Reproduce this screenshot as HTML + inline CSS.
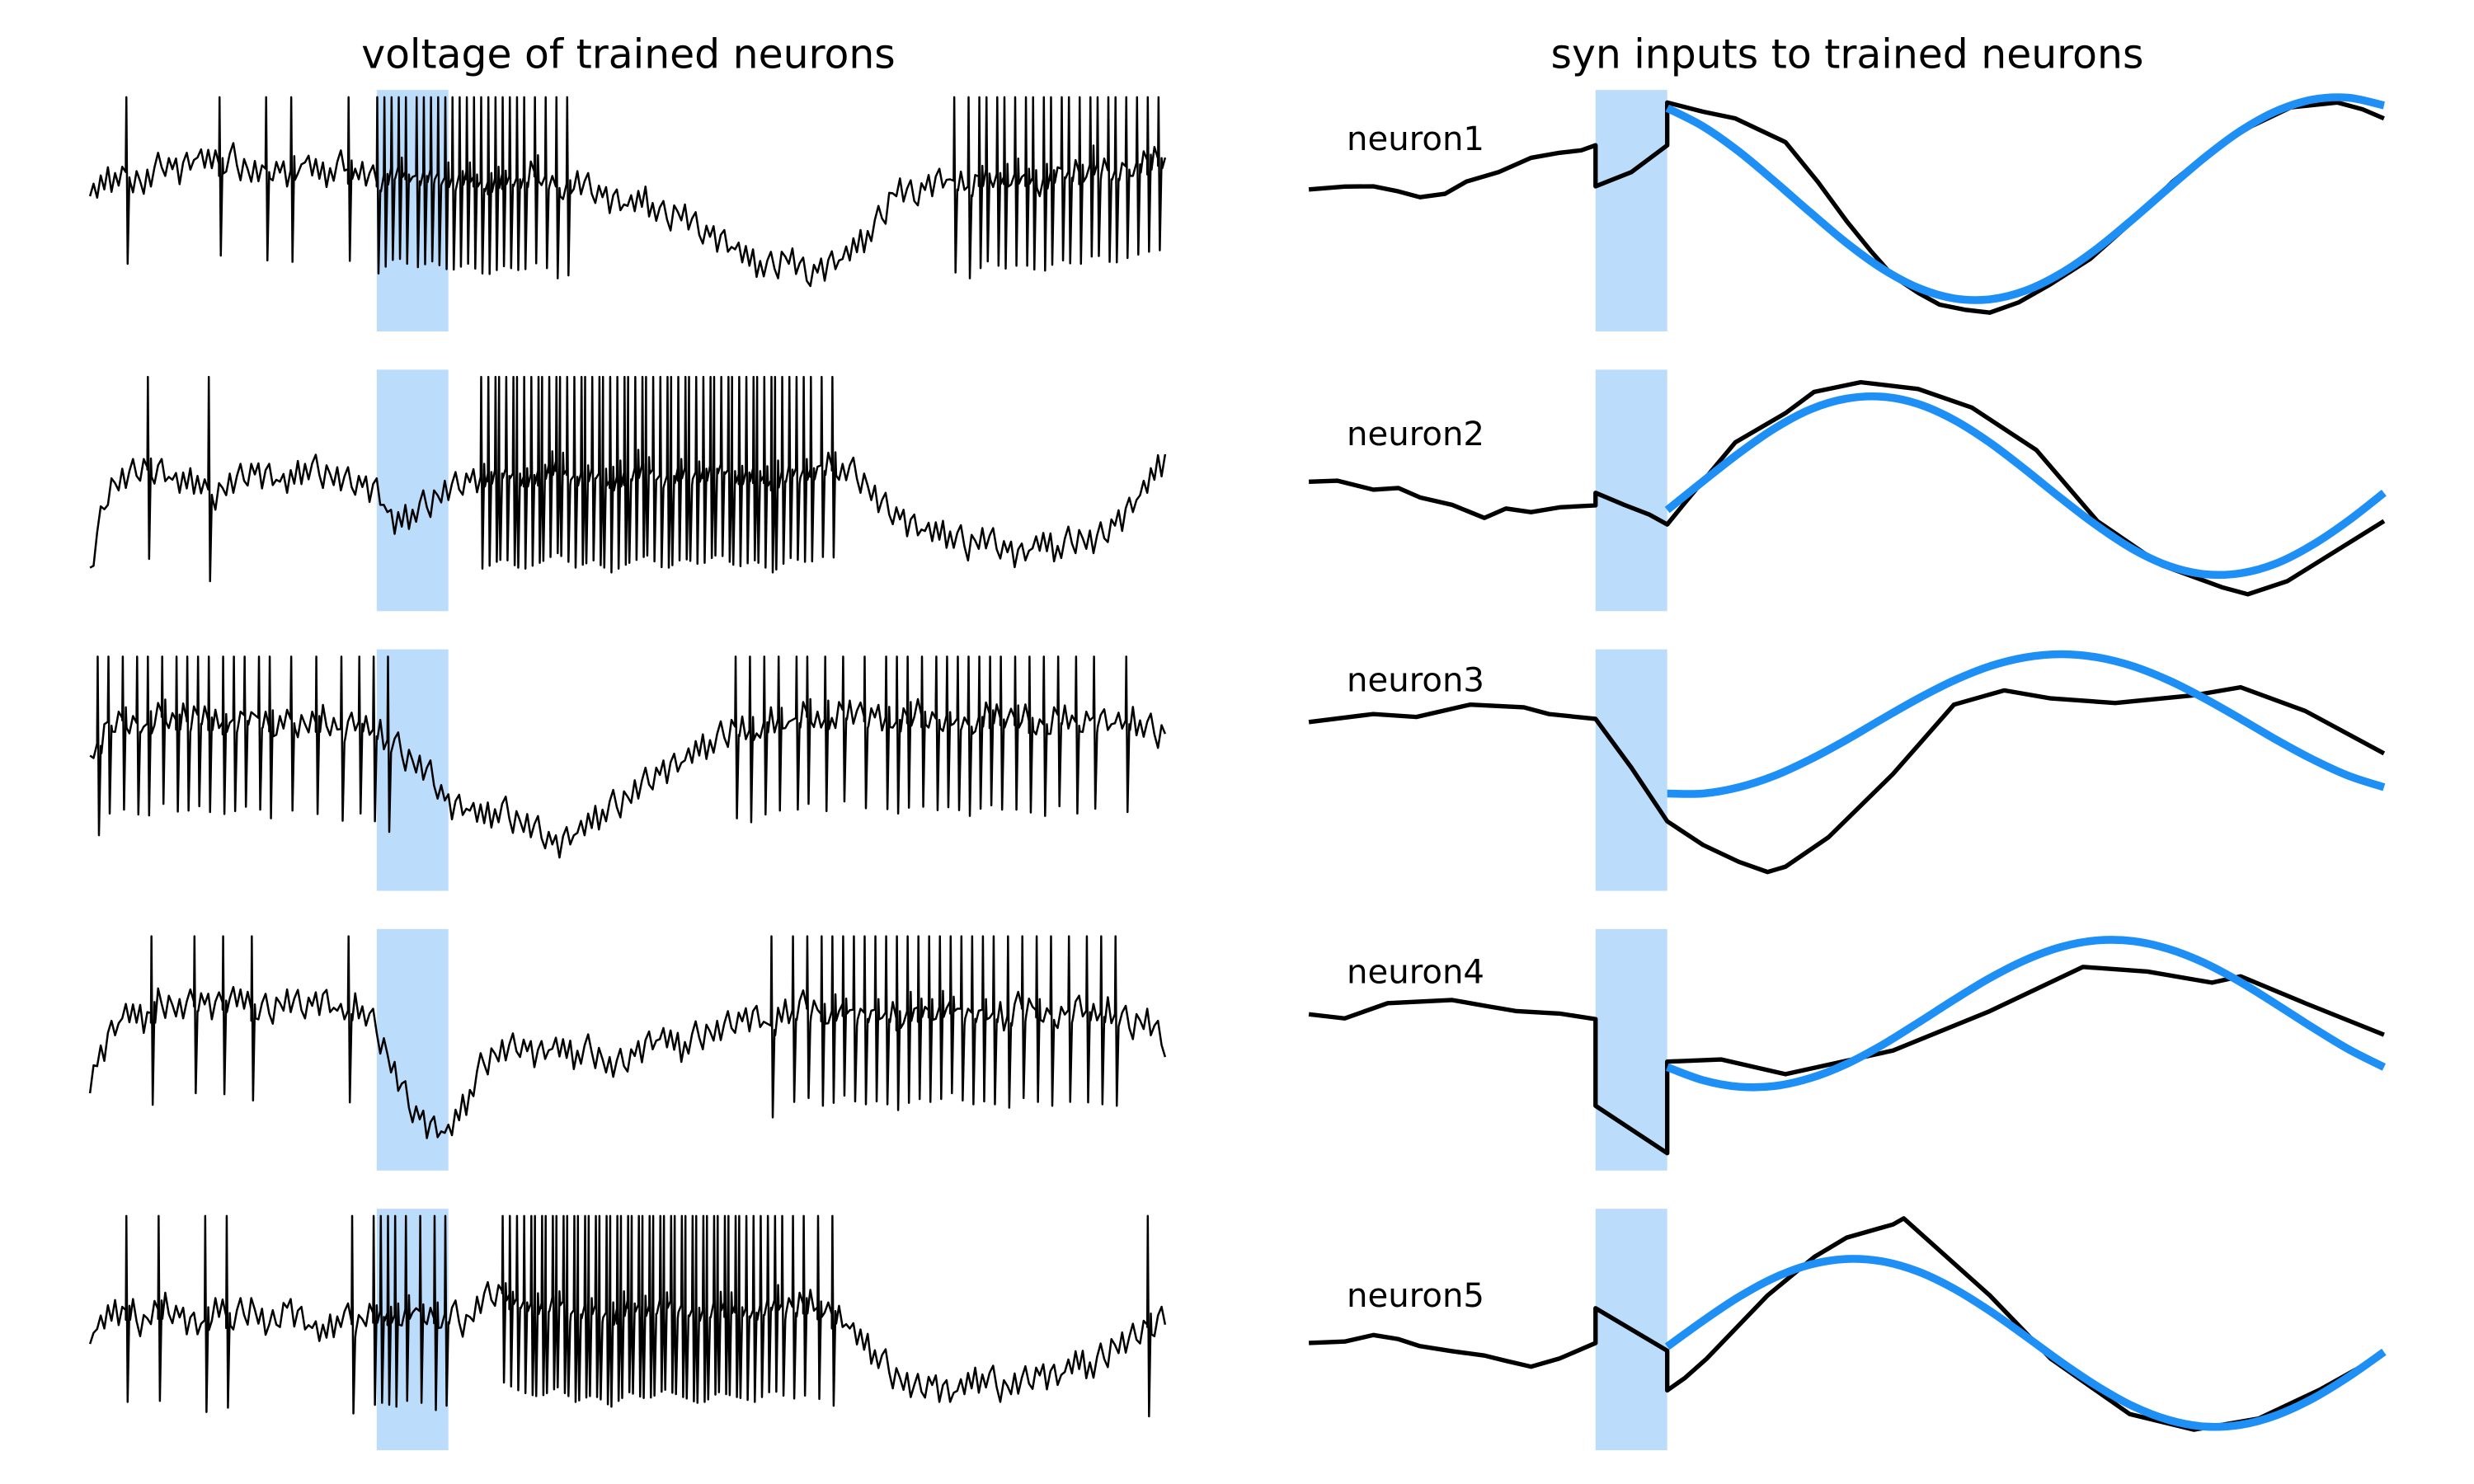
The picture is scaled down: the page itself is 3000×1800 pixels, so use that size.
<!DOCTYPE html>
<html><head><meta charset="utf-8"><style>
html,body{margin:0;padding:0;background:#fff;}
svg{display:block;}
text{font-family:"DejaVu Sans","Liberation Sans",sans-serif;fill:#000;}
</style></head><body>
<svg id="fig" xmlns="http://www.w3.org/2000/svg" width="3000" height="1800" viewBox="0 0 1567 940.2">
<text x="398" y="43" font-size="25.5" text-anchor="middle">voltage of trained neurons</text>
<text x="1170" y="43" font-size="25.5" text-anchor="middle">syn inputs to trained neurons</text>
<g id="plots"></g>
</svg>
<script>
// time axis 0..300, stimulus shade 80..100
const shadeWindow = [80, 100];
const neuronLabels = ["neuron1","neuron2","neuron3","neuron4","neuron5"];
// voltage baselines (mV) sampled every 5 time units
const vBase1 = [-24,-18,-14,-20,-10,-13,-8,-11,-9,-15,-12,-14,-10,-16,-12,-14,-18,-11,-16,-13,-17,-14,-19,-15,-17,-13,-20,-18,-21,-25,-28,-26,-33,-31,-38,-41,-46,-52,-54,-49,-57,-53,-50,-44,-35,-21,-24,-18,-17,-20,-13,-16,-14,-18,-12,-15,-10,-14,-11,-9,-8];
const vBase2 = [-64,-30,-25,-20,-22,-28,-26,-32,-27,-22,-24,-28,-21,-23,-26,-27,-30,-45,-40,-35,-30,-26,-24,-20,-25,-22,-18,-24,-21,-26,-22,-19,-25,-20,-23,-18,-24,-21,-26,-20,-22,-19,-21,-25,-35,-40,-45,-48,-49,-53,-50,-54,-57,-52,-55,-50,-52,-45,-38,-28,-17];
const vBase3 = [-25,-10,-8,-12,-6,-10,-7,-11,-9,-6,-12,-8,-12,-9,-13,-10,-14,-20,-27,-32,-44,-46,-50,-47,-52,-55,-61,-57,-52,-46,-42,-35,-30,-27,-22,-18,-12,-14,-8,-10,-6,-9,-5,-8,-7,-10,-6,-9,-7,-11,-6,-9,-8,-12,-7,-10,-8,-11,-9,-13,-16];
const vBase4 = [-43,-25,-15,-18,-10,-14,-9,-12,-8,-13,-14,-10,-12,-9,-15,-12,-22,-40,-55,-62,-65,-52,-35,-31,-28,-32,-29,-33,-30,-38,-34,-28,-25,-30,-24,-23,-18,-16,-20,-14,-12,-16,-11,-15,-13,-17,-12,-14,-10,-15,-13,-17,-12,-14,-16,-12,-15,-14,-20,-18,-28];
const vBase5 = [-33,-25,-22,-28,-20,-24,-29,-22,-26,-21,-30,-20,-27,-33,-25,-28,-22,-24,-20,-26,-23,-28,-17,-14,-18,-20,-16,-22,-19,-24,-18,-21,-17,-20,-23,-18,-20,-22,-17,-21,-19,-22,-26,-35,-42,-50,-55,-52,-57,-53,-50,-55,-52,-48,-50,-44,-46,-38,-35,-28,-25];
// small fluctuation pattern (mV) overlaid on baselines, sampled every 1 time unit, repeating
const vJitter = [0,4,-3,5,-2,6,-5,2,-4,3,7,-1,-6,4,1,-3,5,-4,2,6,-2,-5,3,-1,4,-6,2,5,-3,0];
// spike times
const spikes1 = [10,36,49,56,72,80,82,84,86,88,91,93,95,97,99,101,103,105,107,109,111,113,115,117,119,121,124,127,130,133,241,245,248,250,253,255,258,261,263,266,268,271,273,276,279,281,284,286,289,292,295,298];
const spikes2 = [16,33,109,111,113,114,116,118,119,121,123,125,126,128,130,131,133,135,137,138,140,142,143,145,147,149,150,152,154,155,157,159,161,162,164,166,167,169,171,173,174,176,178,179,181,183,185,186,188,190,191,193,195,197,199,201,204,207];
const spikes3 = [2,5,9,13,16,20,24,27,30,33,37,40,43,47,50,56,63,70,75,79,83,180,184,188,192,197,200,205,210,216,222,225,228,232,236,239,242,245,248,251,254,258,262,266,270,275,280,289];
const spikes4 = [17,29,37,45,72,190,196,200,204,207,210,213,216,219,222,225,228,231,234,237,240,243,246,249,252,256,260,264,268,273,278,282,286];
const spikes5 = [10,19,32,38,73,79,81,83,85,88,92,96,99,115,117,119,121,123,124,126,127,129,130,132,133,135,136,138,139,141,142,144,145,147,148,150,151,153,154,156,157,159,160,162,163,165,166,168,169,171,172,174,175,177,178,180,181,183,185,187,189,191,193,196,199,203,207,295];
const spikePeak = 17, spikeDrop = 38;
// syn inputs (arbitrary units 0..100)
const synT1 = [0,10,18,25,31,38,44,53,62,70,76,80,80,90,100,100,110,119,133,142,150,157,163,170,176,183,190,198,207,218,230,241,252,263,274,287,294,300];
const synV1 = [58.8,60,60.1,58,55.6,57,62.1,66,71.9,74,75,77.1,60.1,66,77.1,94.8,91,88.2,78.4,62,45.8,33,22.9,16,11.1,9,7.8,12,19.6,30,45.8,62,75.2,85,92.8,94.8,92,88.2];
const synT2 = [0,8,18,25,31,40,49,55,62,70,80,80,88,95,100,105,119,133,141,154,170,185,203,220,238,255,262,273,300];
const synV2 = [53.6,54,50.3,51,47.1,44,38.6,42.5,41,43,43.8,49,44,40,35.9,45,69.9,82,90.8,94.8,92,84.3,66.7,37.3,19,9.8,7,12.4,37.3];
const synT3 = [0,18,30,45,60,67,80,90,100,110,120,128,133,145,163,180,194,207,225,247,260,278,300];
const synV3 = [69.9,73.2,72,77.1,76,73.2,71.2,51,28.8,19,12,7.8,10,22.2,48.4,77.1,83,79.7,77.8,81,84.3,74.5,56.9];
const synT4 = [0,10,22,40,50,58,70,80,80,100,100,115,133,163,190,216,234,252,260,278,300];
const synV4 = [64.7,63,69.3,70.6,68,66,65,62.7,26.8,7.2,45.1,46,39.9,49.7,66,84.3,82.4,77.8,80.4,69.3,56.2];
const synT5 = [0,10,18,25,31,40,49,55,62,70,80,80,100,100,105,111,128,141,150,163,166,172,190,207,229,247,265,282,300];
const synV5 = [44.4,45,47.7,46,43.1,41,39.2,37,34.6,38,44.4,58.8,41.2,24.8,30,37.9,64.1,80,88,93.5,96,88,64.1,37.9,15,8.5,13.1,25,39.9];
// target (blue) sampled every 10 from t=100
const targetT = [100,110,120,130,140,150,160,170,180,190,200,210,220,230,240,250,260,270,280,290,300];
const target1 = [92.5,84.9,74.5,62.1,49.2,36.7,26.0,18.1,13.7,13.3,16.9,24.2,34.4,46.6,59.5,72.1,83.1,91.3,96.0,96.8,93.6];
const target2 = [41.9,53.8,65.4,75.7,83.6,88.0,88.8,85.8,79.2,69.8,58.5,46.6,35.3,25.6,18.7,15.3,15.7,19.8,27.4,37.4,49.0];
const target3 = [40.3,40.3,42.9,47.7,54.5,62.5,71.2,79.6,87.1,93.0,96.7,98,96.7,93.0,87.1,79.6,71.2,62.5,54.5,47.7,42.9];
const target4 = [42.8,37.4,34.7,35.0,38.3,44.1,52.0,61.2,70.7,79.7,87.2,92.6,95.3,95.0,91.7,85.9,78.0,68.8,59.3,50.3,42.8];
const target5 = [42.9,53.6,63.5,71.5,76.9,79.2,78.2,74.0,66.9,57.7,47.2,36.4,26.5,18.2,12.5,9.8,10.5,14.5,21.3,30.3,40.7];

const vBases=[vBase1,vBase2,vBase3,vBase4,vBase5];
const spikeSets=[spikes1,spikes2,spikes3,spikes4,spikes5];
const synTs=[synT1,synT2,synT3,synT4,synT5];
const synVs=[synV1,synV2,synV3,synV4,synV5];
const targets=[target1,target2,target3,target4,target5];
const labelY=[95,282,438,623,828];

const NS="http://www.w3.org/2000/svg";
const g=document.getElementById('plots');
const LX0=57, RX0=829, PW=681, TMAX=300;
function rowTop(i){return 57+i*177.2;}
const RH=153;
function xL(t){return LX0+t/TMAX*PW;}
function xR(t){return RX0+t/TMAX*PW;}
function yV(i,v){return rowTop(i)+(20-v)/100*RH;}
function yS(i,v){return rowTop(i)+(100-v)/100*RH;}
function baseAt(arr,t){const step=TMAX/(arr.length-1);let k=Math.min(arr.length-2,Math.floor(t/step));const f=(t-k*step)/step;return arr[k]*(1-f)+arr[k+1]*f;}
function mk(tag,attrs){const e=document.createElementNS(NS,tag);for(const k in attrs)e.setAttribute(k,attrs[k]);g.appendChild(e);return e;}
function smooth(pts){let d=`M${pts[0][0].toFixed(2)},${pts[0][1].toFixed(2)}`;for(let i=0;i<pts.length-1;i++){const p0=pts[Math.max(0,i-1)],p1=pts[i],p2=pts[i+1],p3=pts[Math.min(pts.length-1,i+2)];const c1=[p1[0]+(p2[0]-p0[0])/6,p1[1]+(p2[1]-p0[1])/6];const c2=[p2[0]-(p3[0]-p1[0])/6,p2[1]-(p3[1]-p1[1])/6];d+=`C${c1[0].toFixed(2)},${c1[1].toFixed(2)} ${c2[0].toFixed(2)},${c2[1].toFixed(2)} ${p2[0].toFixed(2)},${p2[1].toFixed(2)}`;}return d;}

for(let i=0;i<5;i++){
  const top=rowTop(i);
  let r=mk('rect',{x:xL(shadeWindow[0]),y:top,width:xL(shadeWindow[1])-xL(shadeWindow[0]),height:RH,fill:'#bcdcfc'});
  
  
  r=mk('rect',{x:xR(shadeWindow[0]),y:top,width:xR(shadeWindow[1])-xR(shadeWindow[0]),height:RH,fill:'#bcdcfc'});
  
  
  // voltage trace
  const base=vBases[i], sp=spikeSets[i].slice().sort((a,b)=>a-b);
  let events=[];
  for(let t=0;t<=TMAX;t+=1){events.push([t,baseAt(base,t)+vJitter[(t+i*7)%vJitter.length]]);}
  for(const s of sp){const b=baseAt(base,s);events.push([s-0.01,b]);events.push([s+0.15,spikePeak]);events.push([s+0.5,b-spikeDrop]);events.push([s+1.2,b-4]);}
  events.sort((a,b)=>a[0]-b[0]);
  let d='';events.forEach((p,k)=>{d+=(k?'L':'M')+xL(Math.max(0,Math.min(TMAX,p[0]))).toFixed(2)+','+yV(i,p[1]).toFixed(2);});
  let p=mk('path',{d:d,fill:'none',stroke:'#000','stroke-width':1.3,'stroke-linejoin':'round'});
  
  
  // syn input
  const st=synTs[i], sv=synVs[i];
  d='';st.forEach((t,k)=>{d+=(k?'L':'M')+xR(t).toFixed(2)+','+yS(i,sv[k]).toFixed(2);});
  p=mk('path',{d:d,fill:'none',stroke:'#000','stroke-width':2.8,'stroke-linejoin':'round'});
  
  
  // target
  const tv=targets[i];
  p=mk('path',{d:smooth(targetT.map((t,k)=>[xR(t),yS(i,tv[k])])),fill:'none',stroke:'#1e8ff5','stroke-width':5,'stroke-linecap':'butt'});
  
  
  const tx=mk('text',{x:853,y:labelY[i],'font-size':21});
  tx.textContent=neuronLabels[i];
  
  
}
</script>
</body></html>
